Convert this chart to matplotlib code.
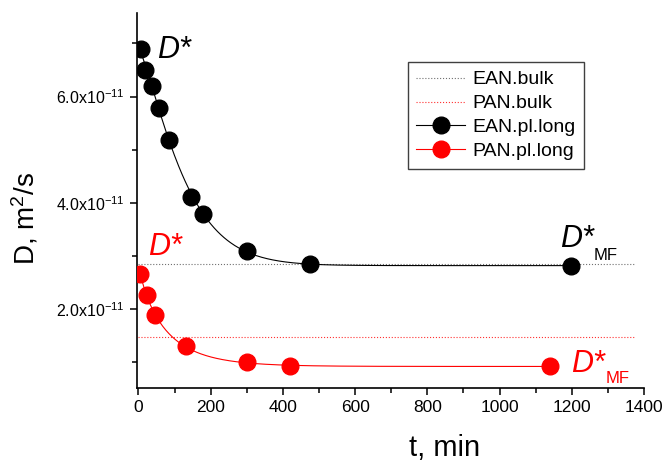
import numpy as np
import matplotlib
matplotlib.use('Agg')
import matplotlib.pyplot as plt
from matplotlib.lines import Line2D
from matplotlib.ticker import FixedLocator, MultipleLocator, FuncFormatter

plt.rcParams['font.family'] = ['Liberation Sans', 'DejaVu Sans']
plt.rcParams['mathtext.fontset'] = 'custom'
plt.rcParams['mathtext.rm'] = 'Liberation Sans'
plt.rcParams['mathtext.it'] = 'Liberation Sans:italic'
plt.rcParams['mathtext.default'] = 'regular'

###############################################################################
# values (D in m^2/s)

ean_t = [7, 18, 38, 57, 86, 146, 180, 301, 475, 1199]
ean_D = [6.89e-11, 6.49e-11, 6.19e-11, 5.79e-11, 5.18e-11, 4.11e-11,
         3.80e-11, 3.10e-11, 2.85e-11, 2.81e-11]
pan_t = [5, 23, 46, 131, 301, 420, 1139]
pan_D = [2.67e-11, 2.27e-11, 1.89e-11, 1.30e-11, 1.00e-11, 0.93e-11,
         0.93e-11]

ean_bulk = 2.86e-11
pan_bulk = 1.47e-11
bulk_t = [0, 1375]

yticks = [2e-11, 4e-11, 6e-11]

###############################################################################

def stretchFunc(t, Dinf, A, tau, beta):
    return Dinf + A*np.exp(-(t/tau)**beta)

def stretchFit(t, D):
    # grid over tau and beta, linear least squares for Dinf and A
    t = np.asarray(t, float)
    D = np.asarray(D, float)
    best = None
    for beta in np.linspace(0.5, 2.0, 61):
        for tau in np.linspace(20, 400, 381):
            M = np.vstack((np.ones_like(t), np.exp(-(t/tau)**beta))).T
            coef = np.linalg.lstsq(M, D, rcond=None)[0]
            err = np.sum((M @ coef - D)**2)
            if best is None or err < best[0]:
                best = (err, coef[0], coef[1], tau, beta)
    return best[1:]

ean_par = stretchFit(ean_t, ean_D)
pan_par = stretchFit(pan_t, pan_D)
ean_tt = np.linspace(min(ean_t), max(ean_t), 400)
pan_tt = np.linspace(min(pan_t), max(pan_t), 400)

###############################################################################

fig = plt.figure(figsize=(6.66, 4.61), dpi=100)
ax = fig.add_axes([0.2057, 0.1584, 0.7613, 0.8134])

ean_bulk_style = dict(ls=':', color='#707070', lw=0.8)
pan_bulk_style = dict(ls=':', color='#ff3030', lw=0.8)

ax.plot(bulk_t, [ean_bulk]*2, **ean_bulk_style)
ax.plot(bulk_t, [pan_bulk]*2, **pan_bulk_style)
ax.plot(ean_tt, stretchFunc(ean_tt, *ean_par), color='black', lw=0.8)
ax.plot(pan_tt, stretchFunc(pan_tt, *pan_par), color='red', lw=0.8)
ax.plot(ean_t, ean_D, 'o', color='black', ms=12, zorder=5)
ax.plot(pan_t, pan_D, 'o', color='red', ms=12, zorder=5)

ax.set_xlim(-4, 1400)
ax.set_ylim(0.52e-11, 7.57e-11)

for side in ['top', 'right']:
    ax.spines[side].set_visible(False)
for side in ['left', 'bottom']:
    ax.spines[side].set_linewidth(1.2)

ax.xaxis.set_major_locator(MultipleLocator(200))
ax.xaxis.set_minor_locator(MultipleLocator(100))
ax.yaxis.set_major_locator(FixedLocator(yticks))
ax.yaxis.set_minor_locator(FixedLocator([1e-11, 3e-11, 5e-11, 7e-11]))

def yfmt(v, pos):
    return '{:.1f}x10$^{{-11}}$'.format(v/1e-11)
ax.yaxis.set_major_formatter(FuncFormatter(yfmt))

ax.tick_params(which='major', direction='out', length=5, width=1.1)
ax.tick_params(which='minor', direction='out', length=3.5, width=1.1)
ax.tick_params(axis='x', labelsize=12.5, pad=4)
ax.tick_params(axis='y', labelsize=11.5, pad=4)

ax.set_xlabel('t, min', fontsize=21)
ax.xaxis.set_label_coords(0.607, -0.123)
ax.set_ylabel('D, m$^2$/s', fontsize=20)
ax.yaxis.set_label_coords(-0.19, 0.453)

# annotations
ax.text(52, 6.73e-11, 'D*', fontsize=22, style='italic', color='black')
ax.text(27, 3.02e-11, 'D*', fontsize=22, style='italic', color='red')
ax.text(1167, 3.17e-11, 'D*', fontsize=22, style='italic', color='black')
ax.text(1261, 2.925e-11, 'MF', fontsize=12, color='black')
ax.text(1197, 0.815e-11, 'D*', fontsize=22, style='italic', color='red')
ax.text(1294, 0.608e-11, 'MF', fontsize=12, color='red')

handles = [Line2D([], [], **ean_bulk_style),
           Line2D([], [], **pan_bulk_style),
           Line2D([], [], color='black', lw=0.8, marker='o', ms=12),
           Line2D([], [], color='red', lw=0.8, marker='o', ms=12)]
labels = ['EAN.bulk', 'PAN.bulk', 'EAN.pl.long', 'PAN.pl.long']
leg = ax.legend(handles, labels, loc='upper left',
                bbox_to_anchor=(0.534, 0.869), borderaxespad=0,
                fontsize=14, fancybox=False, framealpha=1,
                edgecolor='#404040', handlelength=2.5, handletextpad=0.35,
                labelspacing=0.32, borderpad=0.45)
leg.get_frame().set_linewidth(1.0)

fig.savefig('out.png', dpi=100)
